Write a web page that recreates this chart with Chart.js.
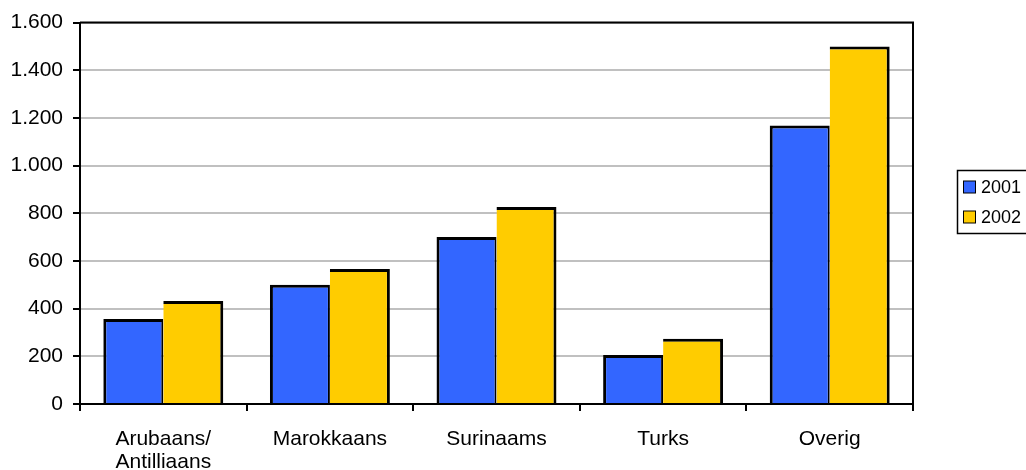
<!DOCTYPE html>
<html>
<head>
<meta charset="utf-8">
<script src="https://cdn.jsdelivr.net/npm/chart.js@4.4.0/dist/chart.umd.min.js"></script>
<style>
  html, body { margin: 0; padding: 0; background: #fff; }
  #wrap { width: 1026px; height: 470px; }
</style>
</head>
<body>
<div id="wrap"><canvas id="chart" width="1026" height="470"></canvas></div>
<script>
// <![CDATA[
var categories = [["Arubaans/", "Antilliaans"], "Marokkaans", "Surinaams", "Turks", "Overig"];
var series2001 = [357, 500, 701, 206, 1168];
var series2002 = [432, 566, 826, 274, 1500];
var yTicks = [0, 200, 400, 600, 800, 1000, 1200, 1400, 1600];

function dutchNumber(v) {
    return String(v).replace(/\B(?=(\d{3})+(?!\d))/g, ".");
}

// plot frame (top and right edge) like the original
var framePlugin = {
    id: "frame",
    afterDraw: function (chart) {
        var a = chart.chartArea, ctx = chart.ctx;
        ctx.save();
        ctx.strokeStyle = "#000";
        ctx.lineWidth = 2;
        ctx.beginPath();
        ctx.moveTo(a.left, a.top);
        ctx.lineTo(a.right, a.top);
        ctx.lineTo(a.right, a.bottom);
        ctx.stroke();
        ctx.restore();
    }
};

// boxed legend on the right, cut by the page edge
var boxLegend = {
    id: "boxLegend",
    afterDraw: function (chart) {
        var ctx = chart.ctx;
        var sets = chart.data.datasets;
        ctx.save();
        ctx.strokeStyle = "#000";
        ctx.lineWidth = 1.5;
        ctx.strokeRect(957.5, 170.5, 90, 63);
        ctx.font = "18px 'Liberation Sans', Arial, sans-serif";
        ctx.textBaseline = "middle";
        ctx.textAlign = "left";
        for (let i = 0; i < sets.length; i++) {
            var cy = 187 + i * 30;
            ctx.fillStyle = sets[i].backgroundColor;
            ctx.fillRect(963.5, cy - 6, 12, 12);
            ctx.lineWidth = 1;
            ctx.strokeRect(963.5, cy - 6, 12, 12);
            ctx.fillStyle = "#000";
            ctx.fillText(sets[i].label, 981, cy + 1);
        }
        ctx.restore();
    }
};

var ctx = document.getElementById("chart").getContext("2d");
var myChart = new Chart(ctx, {
    type: "bar",
    data: {
        labels: categories,
        datasets: [
            {
                label: "2001",
                data: series2001,
                backgroundColor: "#3366FF",
                borderColor: "#000",
                borderWidth: { top: 3, left: 3, right: 2, bottom: 0 },
                borderSkipped: false,
                categoryPercentage: 0.72,
                barPercentage: 1.0
            },
            {
                label: "2002",
                data: series2002,
                backgroundColor: "#FFCC00",
                borderColor: "#000",
                borderWidth: { top: 3, left: 0, right: 3, bottom: 0 },
                borderSkipped: false,
                categoryPercentage: 0.72,
                barPercentage: 1.0
            }
        ]
    },
    options: {
        responsive: false,
        animation: false,
        layout: { padding: { top: 18, right: 113, left: 0, bottom: 0 } },
        plugins: {
            legend: { display: false },
            tooltip: { enabled: false }
        },
        scales: {
            x: {
                grid: {
                    offset: true,
                    drawOnChartArea: false,
                    tickLength: 7,
                    tickColor: "#000",
                    lineWidth: 2
                },
                border: { color: "#000", width: 2 },
                ticks: {
                    color: "#000",
                    padding: 17,
                    maxRotation: 0,
                    font: { family: "'Liberation Sans', Arial, sans-serif", size: 21, lineHeight: 1.1 }
                },
                afterFit: function (scale) { scale.height = 66; }
            },
            y: {
                min: 0,
                max: 1600,
                afterBuildTicks: function (scale) {
                    scale.ticks = yTicks.map(function (v) { return { value: v }; });
                },
                grid: {
                    color: "#c0c0c0",
                    lineWidth: 2,
                    tickLength: 7,
                    tickColor: "#000"
                },
                border: { color: "#000", width: 2 },
                ticks: {
                    color: "#000",
                    padding: 10,
                    callback: function (v) { return dutchNumber(v); },
                    font: { family: "'Liberation Sans', Arial, sans-serif", size: 21 }
                },
                afterFit: function (scale) { scale.width = 80; }
            }
        }
    },
    plugins: [framePlugin, boxLegend]
});
// ]]>
</script>
</body>
</html>
